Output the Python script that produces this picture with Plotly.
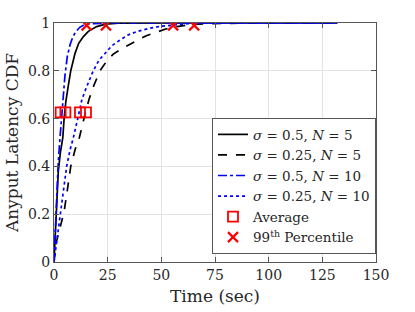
import plotly.graph_objects as go

# ---------------- data ----------------
labels = ["<i>σ</i> = 0.5, <i>N</i> = 5",
          "<i>σ</i> = 0.25, <i>N</i> = 5",
          "<i>σ</i> = 0.5, <i>N</i> = 10",
          "<i>σ</i> = 0.25, <i>N</i> = 10"]

# sigma=0.5, N=5 (black solid)
t_a = [0, 0.9, 2, 3, 4.1, 4.7, 5.5, 6.7, 7.8, 9.8, 11.5, 13.7, 16, 19.9, 24, 30, 40, 60, 90, 132]
c_a = [0, 0.19, 0.38, 0.46, 0.52, 0.60, 0.67, 0.74, 0.80, 0.873, 0.915, 0.943, 0.965, 0.985, 0.995, 0.999, 1, 1, 1, 1]

# sigma=0.25, N=5 (black dashed)
t_b = [0, 1, 3, 4.7, 6.2, 7.8, 9.8, 11.8, 14.5, 16.3, 18.3, 21.4, 24.5, 27.6, 32, 38.6, 43, 47.9, 52, 57.2, 63, 70, 80, 95, 132]
c_b = [0, 0.08, 0.15, 0.21, 0.30, 0.40, 0.47, 0.52, 0.62, 0.68, 0.733, 0.80, 0.84, 0.87, 0.895, 0.925, 0.947, 0.962, 0.975, 0.985, 0.992, 0.997, 0.999, 1, 1]

# sigma=0.5, N=10 (blue dash-dot)
t_c = [0, 1, 2, 2.8, 3.6, 5.1, 6.2, 7.5, 8.7, 10, 12, 14, 16, 20, 25, 40, 80, 132]
c_c = [0, 0.25, 0.42, 0.52, 0.62, 0.78, 0.86, 0.91, 0.94, 0.962, 0.982, 0.992, 0.996, 0.999, 1, 1, 1, 1]

# sigma=0.25, N=10 (blue dotted)
t_d = [0, 1.3, 2.8, 4.3, 5.9, 7.5, 9, 11.3, 13, 15.2, 18.3, 21, 23.8, 27, 30.8, 34.5, 38.6, 44, 49.4, 55, 62, 70, 80, 132]
c_d = [0, 0.09, 0.19, 0.30, 0.40, 0.47, 0.52, 0.61, 0.68, 0.733, 0.80, 0.845, 0.873, 0.905, 0.929, 0.95, 0.964, 0.977, 0.986, 0.992, 0.997, 0.999, 1, 1]

# markers
avg_t = [5.3, 14.9, 3.1, 12.1]
avg_c = [0.626, 0.626, 0.626, 0.626]
p99_t = [24.2, 65.3, 15.2, 55.5]
p99_c = [0.99, 0.99, 0.99, 0.99]

x_ticks = [0, 25, 50, 75, 100, 125, 150]
y_ticks = [0, 0.2, 0.4, 0.6, 0.8, 1]

# ---------------- figure ----------------
FONT = "DejaVu Serif"
fig = go.Figure()

styles = [dict(color="black", dash="solid"),
          dict(color="black", dash="dash"),
          dict(color="#0000ff", dash="dashdot"),
          dict(color="#0000ff", dash="dot")]
for (t, c), lab, st in zip([(t_a, c_a), (t_b, c_b), (t_c, c_c), (t_d, c_d)], labels, styles):
    fig.add_trace(go.Scatter(x=t, y=c, mode="lines", name=lab,
                             line=dict(color=st["color"], dash=st["dash"], width=1.7)))

fig.add_trace(go.Scatter(x=avg_t, y=avg_c, mode="markers", name="Average",
                         marker=dict(symbol="square-open", size=10, color="red",
                                     line=dict(width=1.8, color="red"))))
fig.add_trace(go.Scatter(x=p99_t, y=p99_c, mode="markers", name="99<sup>th</sup> Percentile",
                         marker=dict(symbol="x-thin-open", size=10, color="red",
                                     line=dict(width=2.2, color="red"))))

axis_common = dict(showline=True, linecolor="#555555", linewidth=1, mirror="ticks",
                   ticks="inside", ticklen=5, tickcolor="#555555",
                   showgrid=True, gridcolor="#e3e3e3", gridwidth=1, zeroline=False,
                   tickfont=dict(family=FONT, size=14, color="#262626"))

fig.update_xaxes(range=[0, 150], tickvals=x_ticks, ticktext=[str(v) for v in x_ticks],
                 title=dict(text="Time (sec)", font=dict(family=FONT, size=17, color="#262626"),
                            standoff=8),
                 **axis_common)
fig.update_yaxes(range=[0, 1], tickvals=y_ticks, ticktext=["0", "0.2", "0.4", "0.6", "0.8", "1"],
                 title=dict(text="Anyput Latency CDF", font=dict(family=FONT, size=17, color="#262626"),
                            standoff=4),
                 **axis_common)

fig.update_layout(
    width=415, height=312,
    margin=dict(l=54, r=39, t=23, b=50, autoexpand=False),
    plot_bgcolor="white", paper_bgcolor="white",
    showlegend=True,
    legend=dict(x=1, xanchor="right", y=0.033, yanchor="bottom",
                bgcolor="white", bordercolor="#555555", borderwidth=1,
                font=dict(family=FONT, size=13.5, color="#262626"),
                itemwidth=30, tracegroupgap=0),
)

fig.write_html("out.html", config={"displayModeBar": False},
               post_script="document.body.style.margin='0';document.body.style.overflow='hidden';")
